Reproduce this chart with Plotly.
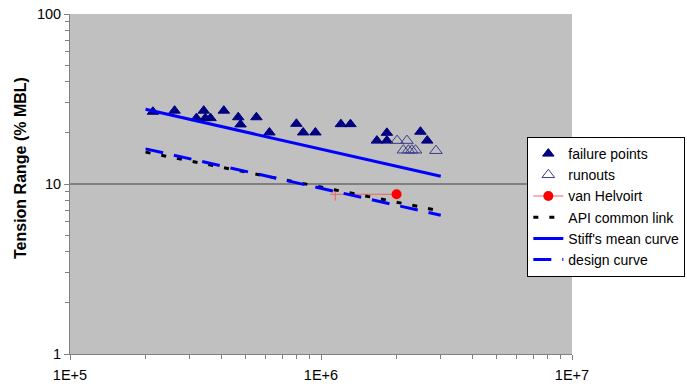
import plotly.graph_objects as go

# ---- data ----
failure_n = [2.14e5, 2.61e5, 3.19e5, 3.41e5, 3.46e5, 3.63e5, 4.10e5, 4.68e5, 4.78e5,
             5.53e5, 6.23e5, 7.98e5, 8.49e5, 9.50e5, 1.20e6, 1.31e6, 1.67e6, 1.83e6,
             1.83e6, 2.49e6, 2.65e6]
failure_t = [26.6, 27.0, 24.4, 27.0, 24.4, 24.4, 27.0, 24.7, 22.4,
             24.7, 20.1, 22.6, 20.1, 20.1, 22.5, 22.5, 18.0, 20.0,
             18.0, 20.3, 18.0]

runout_n = [2.01e6, 2.20e6, 2.13e6, 2.23e6, 2.30e6, 2.38e6, 2.87e6]
runout_t = [18.0, 18.0, 15.8, 15.8, 15.8, 15.8, 15.7]

vh_line_n = [1.09e6, 2.0e6]
vh_line_t = [8.7, 8.7]
vh_tick_n = [1.14e6]
vh_tick_t = [8.7]
vh_point_n = [2.0e6]
vh_point_t = [8.7]

api_n = [2e5, 3e6]
api_t = [15.4, 6.94]

stiff_n = [2e5, 3e6]
stiff_t = [27.5, 11.1]

design_n = [2e5, 3e6]
design_t = [16.1, 6.55]

x_tickvals = [1e5, 1e6, 1e7]
x_ticktext = ["1E+5", "1E+6", "1E+7"]
y_tickvals = [1, 10, 100]
y_ticktext = ["1", "10", "100"]

x_minor = [k * 10 ** e for e in (5, 6) for k in range(2, 10)]
y_minor = [k * 10 ** e for e in (0, 1) for k in range(2, 10)]

FONT = "Arial, Liberation Sans, sans-serif"
RED_LINE = "#F06060"

fig = go.Figure()
fig.add_trace(go.Scatter(
    x=failure_n, y=failure_t, mode="markers", name="failure points",
    marker=dict(symbol="triangle-up", size=10, color="#000080",
                line=dict(color="#000080", width=1))))
fig.add_trace(go.Scatter(
    x=runout_n, y=runout_t, mode="markers", name="runouts",
    marker=dict(symbol="triangle-up-open", size=11, color="#3C3C8C",
                line=dict(color="#3C3C8C", width=1))))
fig.add_trace(go.Scatter(
    x=vh_line_n, y=vh_line_t, mode="lines", showlegend=False,
    line=dict(color=RED_LINE, width=1), hoverinfo="skip"))
fig.add_trace(go.Scatter(
    x=vh_tick_n, y=vh_tick_t, mode="markers", showlegend=False,
    marker=dict(symbol="line-ns", size=9, color=RED_LINE,
                line=dict(color=RED_LINE, width=1))))
fig.add_trace(go.Scatter(
    x=vh_point_n, y=vh_point_t, mode="lines+markers", name="van Helvoirt",
    line=dict(color=RED_LINE, width=1),
    marker=dict(symbol="circle", size=10, color="#FF0000")))
fig.add_trace(go.Scatter(
    x=api_n, y=api_t, mode="lines", name="API common link",
    line=dict(color="#000000", width=3, dash="5px,11px")))
fig.add_trace(go.Scatter(
    x=stiff_n, y=stiff_t, mode="lines", name="Stiff's mean curve",
    line=dict(color="#0000FF", width=3)))
fig.add_trace(go.Scatter(
    x=design_n, y=design_t, mode="lines", name="design curve",
    line=dict(color="#0000FF", width=3, dash="18px,11px")))

axis_common = dict(
    showline=True, linecolor="#808080", linewidth=1,
    ticks="outside", ticklen=5, tickcolor="#808080", tickwidth=1,
    tickfont=dict(family=FONT, size=14.5, color="#000000"),
    zeroline=False, tickmode="array",
)

fig.update_xaxes(
    type="log", range=[5, 7], tickvals=x_tickvals, ticktext=x_ticktext,
    showgrid=False, ticklabelstandoff=3,
    minor=dict(tickvals=x_minor, ticks="outside", ticklen=4,
               tickcolor="#808080", showgrid=False),
    **axis_common)
fig.update_yaxes(
    type="log", range=[0, 2], tickvals=y_tickvals, ticktext=y_ticktext,
    showgrid=True, gridcolor="#808080", gridwidth=1.5,
    minor=dict(tickvals=y_minor, ticks="outside", ticklen=4,
               tickcolor="#808080", showgrid=False),
    **axis_common)

fig.add_annotation(
    text="<b>Tension Range (% MBL)</b>", textangle=-90,
    xref="paper", yref="paper", x=(20 - 69.5) / 502.2, y=(354 - 168.5) / 340,
    xanchor="center", yanchor="middle", showarrow=False,
    font=dict(family=FONT, size=16, color="#000000"))

fig.update_layout(
    width=687, height=388,
    margin=dict(l=69.5, r=115.3, t=14, b=34, autoexpand=False),
    paper_bgcolor="#FFFFFF", plot_bgcolor="#C0C0C0",
    showlegend=True,
    legend=dict(
        x=(527 - 69.5) / 502.2, y=(354 - 137) / 340,
        xanchor="left", yanchor="top",
        bgcolor="#FFFFFF", bordercolor="#000000", borderwidth=1,
        font=dict(family=FONT, size=14, color="#000000"),
        traceorder="normal", tracegroupgap=0,
    ),
    font=dict(family=FONT),
)

fig.write_html("out.html")
